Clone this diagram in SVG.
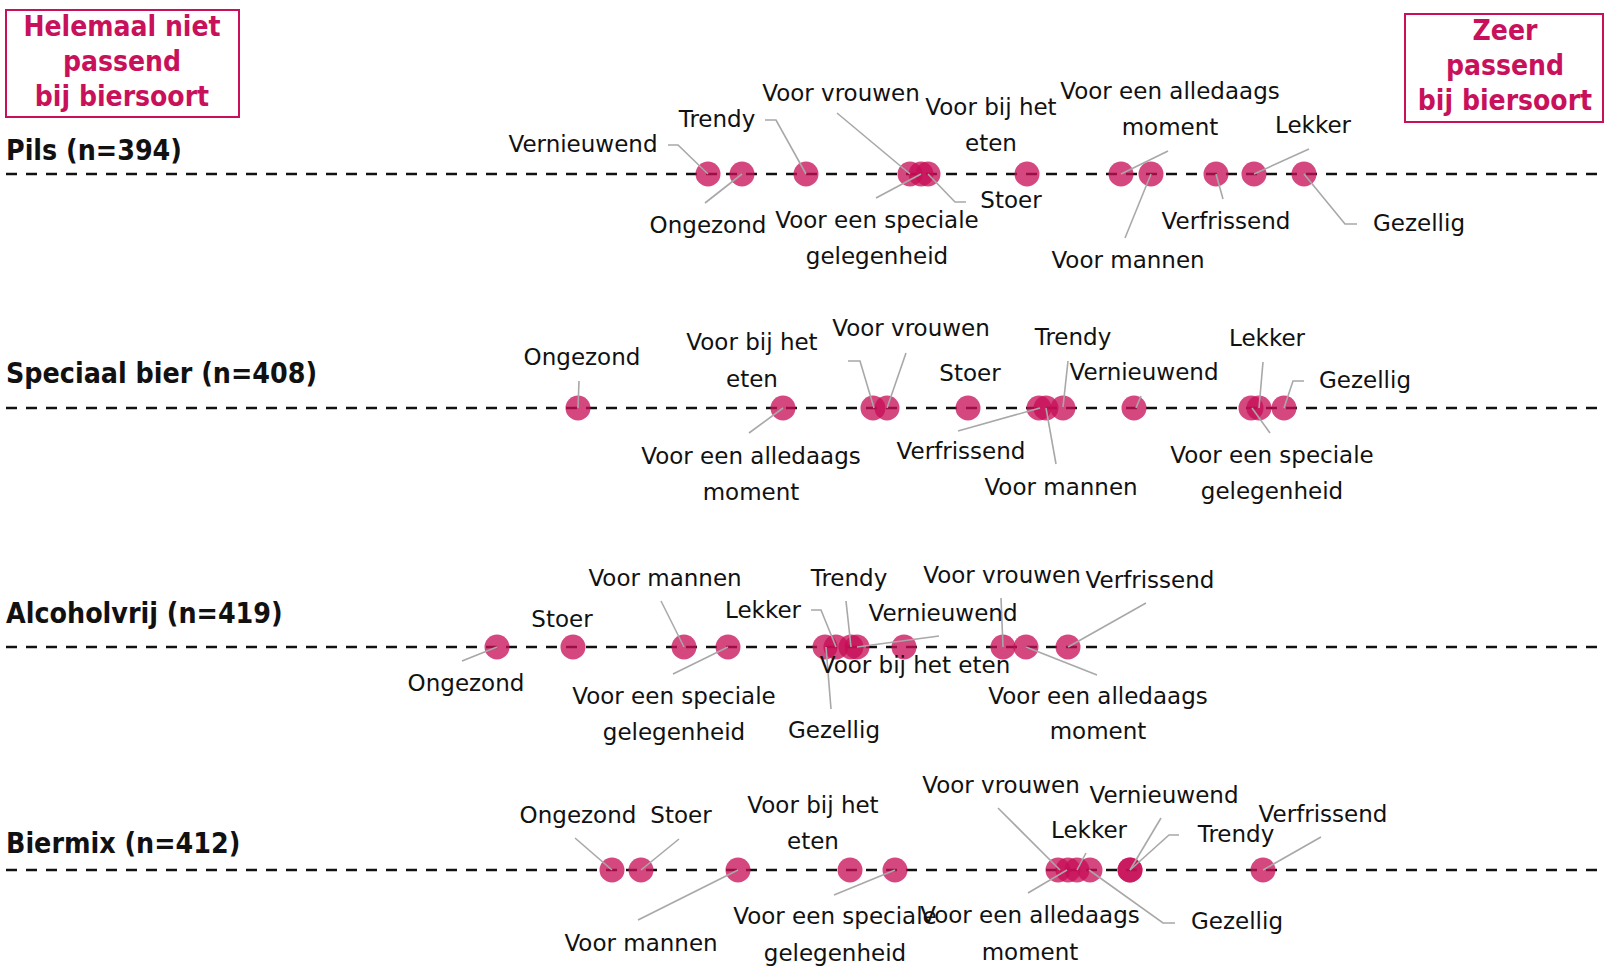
<svg xmlns="http://www.w3.org/2000/svg" width="1605" height="967" viewBox="0 0 1605 967">
  <style>
    .axis { stroke: #111; stroke-width: 2.5; stroke-dasharray: 11 9; fill: none; }
    .dot { fill: #c70d57; fill-opacity: 0.76; }
    .lead { stroke: #a8a8a8; stroke-width: 1.6; fill: none; }
    .lb { font-family: "DejaVu Sans", "Liberation Sans", sans-serif; font-size: 23px; fill: #111; text-anchor: middle; }
    .title { font-family: "DejaVu Sans Condensed", "DejaVu Sans", sans-serif; font-stretch: condensed; font-weight: bold; font-size: 28.3px; fill: #111; }
    .scale { font-family: "DejaVu Sans Condensed", "DejaVu Sans", sans-serif; font-stretch: condensed; font-weight: bold; font-size: 28px; fill: #c8115a; text-anchor: middle; }
    .box { fill: none; stroke: #c8115a; stroke-width: 2; }
  </style>

  <!-- scale end markers -->
  <g id="scale-low">
    <rect class="box" x="6" y="10" width="233" height="107"/>
    <text class="scale" x="122" y="36">Helemaal niet</text>
    <text class="scale" x="122" y="71">passend</text>
    <text class="scale" x="122" y="106">bij biersoort</text>
  </g>
  <g id="scale-high">
    <rect class="box" x="1405" y="14" width="198" height="108"/>
    <text class="scale" x="1505" y="40">Zeer</text>
    <text class="scale" x="1505" y="75">passend</text>
    <text class="scale" x="1505" y="110">bij biersoort</text>
  </g>

  <!-- row titles -->
  <g id="titles">
    <text class="title" x="6" y="160">Pils (n=394)</text>
    <text class="title" x="6" y="383">Speciaal bier (n=408)</text>
    <text class="title" x="6" y="623">Alcoholvrij (n=419)</text>
    <text class="title" x="6" y="853">Biermix (n=412)</text>
  </g>

  <!-- dashed axes -->
  <g id="axes">
    <line class="axis" x1="6" y1="174" x2="1605" y2="174"/>
    <line class="axis" x1="6" y1="408" x2="1605" y2="408"/>
    <line class="axis" x1="6" y1="647" x2="1605" y2="647"/>
    <line class="axis" x1="6" y1="870" x2="1605" y2="870"/>
  </g>

  <!-- Pils -->
  <g id="pils-dots">
    <circle class="dot" cx="708" cy="174" r="12.5"/>
    <circle class="dot" cx="742" cy="174" r="12.5"/>
    <circle class="dot" cx="806" cy="174" r="12.5"/>
    <circle class="dot" cx="910" cy="174" r="12.5"/>
    <circle class="dot" cx="921" cy="174" r="12.5"/>
    <circle class="dot" cx="928" cy="174" r="12.5"/>
    <circle class="dot" cx="1027" cy="174" r="12.5"/>
    <circle class="dot" cx="1121" cy="174" r="12.5"/>
    <circle class="dot" cx="1151" cy="174" r="12.5"/>
    <circle class="dot" cx="1216" cy="174" r="12.5"/>
    <circle class="dot" cx="1254" cy="174" r="12.5"/>
    <circle class="dot" cx="1304" cy="174" r="12.5"/>
  </g>

  <!-- Speciaal bier -->
  <g id="speciaal-dots">
    <circle class="dot" cx="578" cy="408" r="12.5"/>
    <circle class="dot" cx="783" cy="408" r="12.5"/>
    <circle class="dot" cx="873" cy="408" r="12.5"/>
    <circle class="dot" cx="887" cy="408" r="12.5"/>
    <circle class="dot" cx="968" cy="408" r="12.5"/>
    <circle class="dot" cx="1039" cy="408" r="12.5"/>
    <circle class="dot" cx="1046" cy="408" r="12.5"/>
    <circle class="dot" cx="1063" cy="408" r="12.5"/>
    <circle class="dot" cx="1134" cy="408" r="12.5"/>
    <circle class="dot" cx="1251" cy="408" r="12.5"/>
    <circle class="dot" cx="1259" cy="408" r="12.5"/>
    <circle class="dot" cx="1284" cy="408" r="12.5"/>
  </g>

  <!-- Alcoholvrij -->
  <g id="alcoholvrij-dots">
    <circle class="dot" cx="497" cy="647" r="12.5"/>
    <circle class="dot" cx="573" cy="647" r="12.5"/>
    <circle class="dot" cx="684" cy="647" r="12.5"/>
    <circle class="dot" cx="728" cy="647" r="12.5"/>
    <circle class="dot" cx="825" cy="647" r="12.5"/>
    <circle class="dot" cx="836" cy="647" r="12.5"/>
    <circle class="dot" cx="851" cy="647" r="12.5"/>
    <circle class="dot" cx="857" cy="647" r="12.5"/>
    <circle class="dot" cx="904" cy="647" r="12.5"/>
    <circle class="dot" cx="1003" cy="647" r="12.5"/>
    <circle class="dot" cx="1026" cy="647" r="12.5"/>
    <circle class="dot" cx="1068" cy="647" r="12.5"/>
  </g>

  <!-- Biermix -->
  <g id="biermix-dots">
    <circle class="dot" cx="612" cy="870" r="12.5"/>
    <circle class="dot" cx="641" cy="870" r="12.5"/>
    <circle class="dot" cx="738" cy="870" r="12.5"/>
    <circle class="dot" cx="850" cy="870" r="12.5"/>
    <circle class="dot" cx="895" cy="870" r="12.5"/>
    <circle class="dot" cx="1058" cy="870" r="12.5"/>
    <circle class="dot" cx="1068" cy="870" r="12.5"/>
    <circle class="dot" cx="1077" cy="870" r="12.5"/>
    <circle class="dot" cx="1090" cy="870" r="12.5"/>
    <circle class="dot" cx="1130" cy="870" r="12.5"/>
    <circle class="dot" cx="1130" cy="870" r="12.5"/>
    <circle class="dot" cx="1263" cy="870" r="12.5"/>
  </g>

  <!-- leader lines -->
  <g id="connectors">
    <path class="lead" d="M668,145 H678 L708,174"/>
    <path class="lead" d="M742,174 L705,203"/>
    <path class="lead" d="M765,120 H776 L806,174"/>
    <path class="lead" d="M837,113 L910,174"/>
    <path class="lead" d="M876,198 L921,174"/>
    <path class="lead" d="M928,174 L955,202 H966"/>
    <path class="lead" d="M1168,151 L1121,174"/>
    <path class="lead" d="M1151,174 L1125,238"/>
    <path class="lead" d="M1216,174 L1223,199"/>
    <path class="lead" d="M1309,149 L1254,174"/>
    <path class="lead" d="M1304,174 L1345,224 H1357"/>

    <path class="lead" d="M579,381 L578,408"/>
    <path class="lead" d="M783,408 L749,433"/>
    <path class="lead" d="M848,361 H860 L874,408"/>
    <path class="lead" d="M906,353 L887,408"/>
    <path class="lead" d="M1068,361 L1063,407"/>
    <path class="lead" d="M1141,396 L1136,408"/>
    <path class="lead" d="M958,431 L1040,408"/>
    <path class="lead" d="M1056,464 L1046,408"/>
    <path class="lead" d="M1263,362 L1259,408"/>
    <path class="lead" d="M1304,381 H1293 L1284,408"/>
    <path class="lead" d="M1270,433 L1252,408"/>

    <path class="lead" d="M462,661 L497,647"/>
    <path class="lead" d="M661,601 L684,647"/>
    <path class="lead" d="M673,674 L728,647"/>
    <path class="lead" d="M811,610 H821 L836,647"/>
    <path class="lead" d="M846,601 L851,647"/>
    <path class="lead" d="M939,636 L857,647"/>
    <path class="lead" d="M831,709 L826,647"/>
    <path class="lead" d="M1001,598 L1003,647"/>
    <path class="lead" d="M1146,603 L1068,647"/>
    <path class="lead" d="M1097,675 L1026,647"/>

    <path class="lead" d="M575,838 L612,870"/>
    <path class="lead" d="M679,839 L641,870"/>
    <path class="lead" d="M638,920 L738,870"/>
    <path class="lead" d="M834,895 L895,870"/>
    <path class="lead" d="M998,808 L1060,870"/>
    <path class="lead" d="M1161,818 L1130,870"/>
    <path class="lead" d="M1086,853 L1077,870"/>
    <path class="lead" d="M1179,835 H1169 L1130,870"/>
    <path class="lead" d="M1321,837 L1263,870"/>
    <path class="lead" d="M1028,893 L1067,870"/>
    <path class="lead" d="M1089,870 L1163,923 H1175"/>
  </g>

  <!-- labels: Pils -->
  <g id="pils-labels">
    <text class="lb" x="583" y="152">Vernieuwend</text>
    <text class="lb" x="708" y="233">Ongezond</text>
    <text class="lb" x="717" y="127">Trendy</text>
    <text class="lb" x="841" y="101">Voor vrouwen</text>
    <text class="lb" x="877" y="228">Voor een speciale</text>
    <text class="lb" x="877" y="264">gelegenheid</text>
    <text class="lb" x="1011" y="208">Stoer</text>
    <text class="lb" x="991" y="115">Voor bij het</text>
    <text class="lb" x="991" y="151">eten</text>
    <text class="lb" x="1170" y="99">Voor een alledaags</text>
    <text class="lb" x="1170" y="135">moment</text>
    <text class="lb" x="1128" y="268">Voor mannen</text>
    <text class="lb" x="1226" y="229">Verfrissend</text>
    <text class="lb" x="1313" y="133">Lekker</text>
    <text class="lb" x="1419" y="231">Gezellig</text>
  </g>

  <!-- labels: Speciaal bier -->
  <g id="speciaal-labels">
    <text class="lb" x="582" y="365">Ongezond</text>
    <text class="lb" x="752" y="350">Voor bij het</text>
    <text class="lb" x="752" y="387">eten</text>
    <text class="lb" x="751" y="464">Voor een alledaags</text>
    <text class="lb" x="751" y="500">moment</text>
    <text class="lb" x="911" y="336">Voor vrouwen</text>
    <text class="lb" x="970" y="381">Stoer</text>
    <text class="lb" x="1073" y="345">Trendy</text>
    <text class="lb" x="1144" y="380">Vernieuwend</text>
    <text class="lb" x="961" y="459">Verfrissend</text>
    <text class="lb" x="1061" y="495">Voor mannen</text>
    <text class="lb" x="1267" y="346">Lekker</text>
    <text class="lb" x="1365" y="388">Gezellig</text>
    <text class="lb" x="1272" y="463">Voor een speciale</text>
    <text class="lb" x="1272" y="499">gelegenheid</text>
  </g>

  <!-- labels: Alcoholvrij -->
  <g id="alcoholvrij-labels">
    <text class="lb" x="466" y="691">Ongezond</text>
    <text class="lb" x="562" y="627">Stoer</text>
    <text class="lb" x="665" y="586">Voor mannen</text>
    <text class="lb" x="674" y="704">Voor een speciale</text>
    <text class="lb" x="674" y="740">gelegenheid</text>
    <text class="lb" x="763" y="618">Lekker</text>
    <text class="lb" x="849" y="586">Trendy</text>
    <text class="lb" x="943" y="621">Vernieuwend</text>
    <text class="lb" x="915" y="673">Voor bij het eten</text>
    <text class="lb" x="834" y="738">Gezellig</text>
    <text class="lb" x="1002" y="583">Voor vrouwen</text>
    <text class="lb" x="1150" y="588">Verfrissend</text>
    <text class="lb" x="1098" y="704">Voor een alledaags</text>
    <text class="lb" x="1098" y="739">moment</text>
  </g>

  <!-- labels: Biermix -->
  <g id="biermix-labels">
    <text class="lb" x="578" y="823">Ongezond</text>
    <text class="lb" x="681" y="823">Stoer</text>
    <text class="lb" x="813" y="813">Voor bij het</text>
    <text class="lb" x="813" y="849">eten</text>
    <text class="lb" x="641" y="951">Voor mannen</text>
    <text class="lb" x="835" y="924">Voor een speciale</text>
    <text class="lb" x="835" y="961">gelegenheid</text>
    <text class="lb" x="1001" y="793">Voor vrouwen</text>
    <text class="lb" x="1164" y="803">Vernieuwend</text>
    <text class="lb" x="1089" y="838">Lekker</text>
    <text class="lb" x="1236" y="842">Trendy</text>
    <text class="lb" x="1323" y="822">Verfrissend</text>
    <text class="lb" x="1030" y="923">Voor een alledaags</text>
    <text class="lb" x="1030" y="960">moment</text>
    <text class="lb" x="1237" y="929">Gezellig</text>
  </g>
</svg>
